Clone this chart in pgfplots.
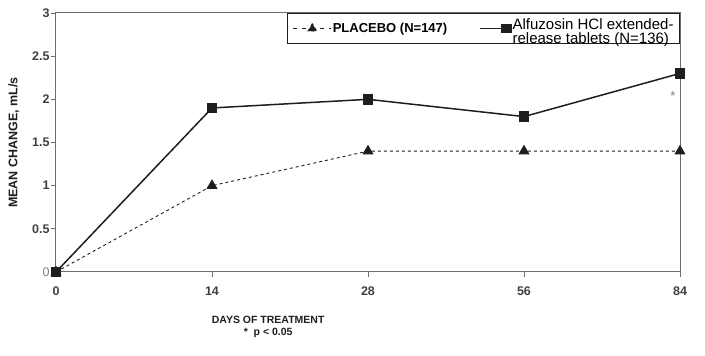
\documentclass[border=0pt]{standalone}
\usepackage{pgfplots}
\pgfplotsset{compat=1.18}
\usepackage{fontspec}
\setmainfont{Liberation Sans}
\definecolor{dk}{HTML}{1E1E1E}
\definecolor{fr}{HTML}{6E6E6E}
\begin{document}
\begin{tikzpicture}[x=1pt,y=1pt]
\begin{axis}[
  name=ax,
  at={(0,0)}, anchor=south west,
  scale only axis,
  width=624pt, height=259pt,
  xmin=0, xmax=4, ymin=0, ymax=3,
  xtick={0,1,2,3,4},
  xticklabels={0,14,28,56,84},
  ytick={0,0.5,1,1.5,2,2.5,3},
  yticklabels={{\color{gray}\mdseries 0},0.5,1,1.5,2,2.5,3},
  tick pos=left,
  tick align=outside,
  major tick length=5pt,
  every tick/.style={fr, line width=0.8pt},
  axis line style={fr, line width=1pt},
  ticklabel style={font=\fontsize{12.5}{13}\selectfont\bfseries, text=dk!85!white},
  xticklabel style={yshift=-6pt},
  yticklabel style={xshift=2pt},
  ylabel={MEAN CHANGE, mL/s},
  ylabel style={font=\fontsize{12.5}{13}\selectfont\bfseries, text=dk, yshift=6pt},
  xlabel={\shortstack{DAYS OF TREATMENT\\[1pt]*\ \ p < 0.05}},
  xlabel style={font=\fontsize{10.5}{12}\selectfont\bfseries, text=dk, at={(rel axis cs:0.34,0)}, anchor=north, yshift=-41pt},
  legend columns=2,
  legend style={at={(rel axis cs:1,1)}, anchor=north east, draw=dk, line width=0.9pt,
    inner xsep=5pt, inner ysep=3.5pt, fill=white,
    /tikz/every even column/.append style={column sep=31pt},
    nodes={inner xsep=1pt, inner ysep=2pt, anchor=west}},
  clip=false,
]
\addplot[dk, line width=0.9pt, dash pattern=on 3pt off 3pt, mark=triangle*, mark size=5.5pt,
  mark options={solid, fill=dk},
  legend image code/.code={
    \draw[dk, line width=0.9pt, dash pattern=on 4pt off 5pt] (0pt,0pt) -- (38pt,0pt);
    \fill[dk] (19pt,0pt) ++(90:5pt) -- ++(-120:8.6pt) -- ++(0:8.6pt) -- cycle;
  }]
  coordinates {(0,0) (1,1.0) (2,1.4) (3,1.4) (4,1.4)};
\addlegendentry{\fontsize{13}{14}\selectfont\bfseries PLACEBO (N=147)}
\addplot[dk, line width=1.5pt, mark=square*, mark size=4.5pt, mark options={solid, fill=dk},
  legend image code/.code={
    \draw[dk, line width=1.2pt] (0pt,0pt) -- (26pt,0pt);
    \fill[dk] (22pt,-3.5pt) rectangle (31pt,3.5pt);
  }]
  coordinates {(0,0) (1,1.9) (2,2.0) (3,1.8) (4,2.3)};
\addlegendentry{\fontsize{15}{11}\selectfont\begin{tabular}{@{}l@{}}Alfuzosin HCl extended-\\release tablets (N=136)\end{tabular}}
\node[text=gray, font=\fontsize{13}{13}\selectfont, anchor=center] at (axis cs:4,2.04) [xshift=-7pt] {*};
\end{axis}
\path[use as bounding box] ([xshift=-56pt,yshift=-84pt]ax.south west) rectangle ([xshift=25pt,yshift=13pt]ax.north east);
\end{tikzpicture}
\end{document}
